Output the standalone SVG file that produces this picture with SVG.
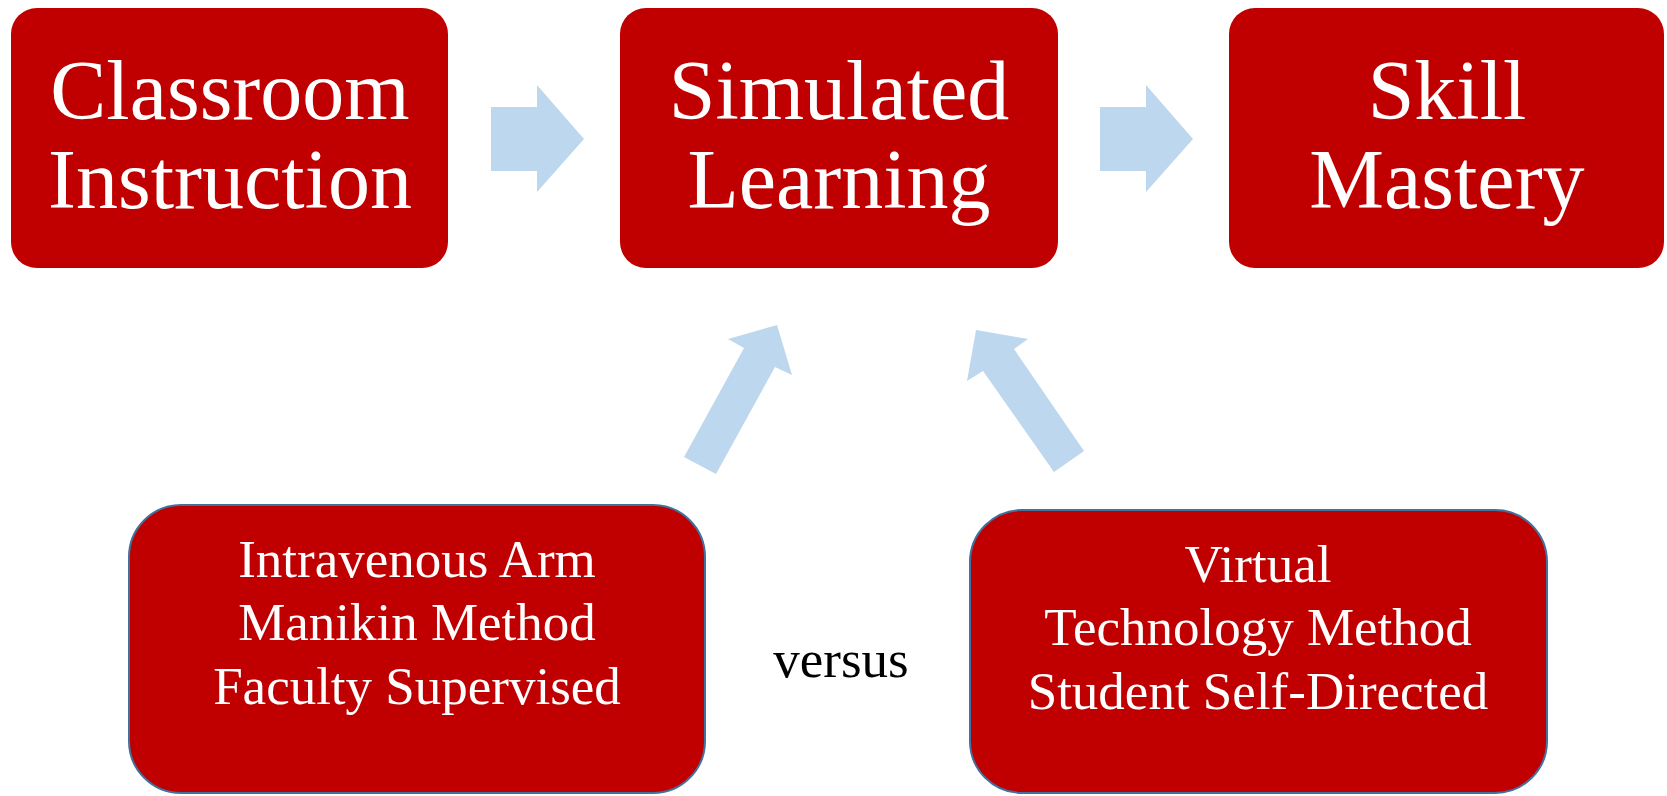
<svg xmlns="http://www.w3.org/2000/svg" width="1667" height="796" viewBox="0 0 1667 796">
  <style>
    .box { fill: #C00000; }
    .method { fill: #C00000; stroke: #41719C; stroke-width: 2; }
    .big { font-family: "Liberation Serif", "Times New Roman", serif; font-size: 84px; fill: #FFFFFF; text-anchor: middle; }
    .small { font-family: "Liberation Serif", "Times New Roman", serif; font-size: 53px; fill: #FFFFFF; text-anchor: middle; }
    .plain { font-family: "Liberation Serif", "Times New Roman", serif; font-size: 53px; fill: #000000; text-anchor: middle; }
    .arrow { fill: #BDD7EE; }
  </style>

  <!-- block arrows -->
  <g id="connectors">
    <polygon class="arrow" points="491,107 537,107 537,85 584,139 537,192 537,171 491,171"/>
    <polygon class="arrow" points="1100,107 1146,107 1146,85 1193,139 1146,192 1146,171 1100,171"/>
    <polygon class="arrow" points="684,457 744,348 728,339 777,325 792,375 775,367 716,474"/>
    <polygon class="arrow" points="1054,472 983,371 967,381 976,330 1028,339 1014,349 1084,451"/>
  </g>

  <g id="classroom">
    <rect class="box" x="11" y="8" width="437" height="260" rx="26" ry="26"/>
    <text class="big" x="230" y="119">Classroom</text>
    <text class="big" x="230" y="208">Instruction</text>
  </g>

  <g id="simulated">
    <rect class="box" x="620" y="8" width="438" height="260" rx="26" ry="26"/>
    <text class="big" x="839" y="119">Simulated</text>
    <text class="big" x="839" y="208">Learning</text>
  </g>

  <g id="mastery">
    <rect class="box" x="1229" y="8" width="435" height="260" rx="26" ry="26"/>
    <text class="big" x="1447" y="119">Skill</text>
    <text class="big" x="1447" y="208">Mastery</text>
  </g>

  <g id="manikin">
    <rect class="method" x="129" y="505" width="576" height="288" rx="52" ry="52"/>
    <text class="small" x="417" y="577">Intravenous Arm</text>
    <text class="small" x="417" y="640">Manikin Method</text>
    <text class="small" x="417" y="704">Faculty Supervised</text>
  </g>

  <g id="versus">
    <text class="plain" x="841" y="677">versus</text>
  </g>

  <g id="virtual">
    <rect class="method" x="970" y="510" width="577" height="283" rx="52" ry="52"/>
    <text class="small" x="1258" y="582">Virtual</text>
    <text class="small" x="1258" y="645">Technology Method</text>
    <text class="small" x="1258" y="709">Student Self-Directed</text>
  </g>
</svg>
